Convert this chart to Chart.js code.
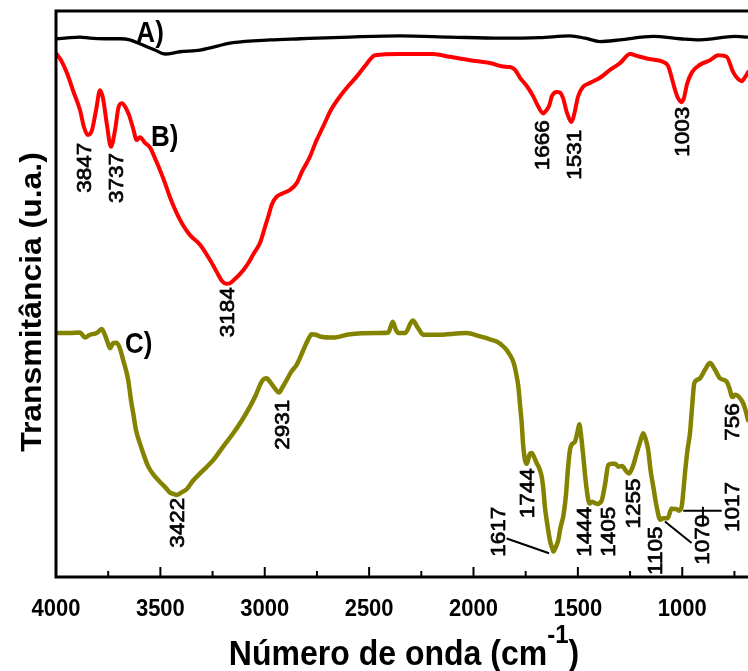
<!DOCTYPE html>
<html>
<head>
<meta charset="utf-8">
<script src="https://cdn.jsdelivr.net/npm/chart.js@4.4.1/dist/chart.umd.min.js"></script>
<style>
body{margin:0;background:#fff;}
#ftir{display:block;}
</style>
</head>
<body>
<canvas id="ftir" width="748" height="671"></canvas>
<script>

// spectrum A
const waveA=[4000,3957,3885,3837,3765,3693,3646,3598,3526,3478,3406,3310,3152,2975,2831,2592,2352,2113,1873,1682,1538,1466,1394,1298,1140,1011,915,748,685];
const transA=[95.1,95.2,95.4,95.2,95.1,95.1,94.9,94.2,93.1,92.4,92.8,93.1,94.4,94.9,95.1,95.4,95.6,95.4,95.2,95.3,95.6,95.2,94.6,94.9,95.5,95.1,94.9,95.5,95.4];

// spectrum B
const waveB=[4000,3976,3947,3919,3885,3866,3847,3828,3808,3789,3775,3756,3737,3717,3701,3685,3669,3650,3631,3613,3598,3574,3550,3526,3502,3478,3454,3422,3392,3358,3310,3262,3224,3205,3184,3167,3147,3119,3085,3052,3023,2999,2983,2965,2943,2913,2879,2847,2822,2783,2755,2720,2683,2640,2601,2560,2515,2472,2352,2194,2113,2017,1921,1859,1825,1801,1777,1744,1715,1691,1666,1657,1638,1624,1601,1586,1571,1552,1531,1518,1499,1475,1441,1394,1346,1298,1250,1212,1170,1091,1068,1054,1034,1020,1003,992,977,953,915,867,827,787,756,733,715,699,685];
const transB=[92.5,91.3,89.0,86.0,82.5,79.5,78.1,78.9,82.5,86.0,84.6,79.9,76.0,79.0,82.9,83.7,83.1,81.6,79.3,77.2,77.7,76.7,75.9,74.0,71.9,69.6,67.1,64.3,62.2,60.4,58.7,56.0,53.5,52.3,51.8,51.9,52.5,53.5,55.1,57.2,59.0,61.8,63.7,65.9,67.2,67.8,68.4,69.6,71.6,74.3,76.9,79.6,82.5,84.9,86.7,88.4,90.5,92.2,92.4,92.4,91.9,91.3,90.8,90.2,90.1,89.6,88.2,86.7,85.0,83.2,81.9,82.2,83.2,85.0,85.7,85.6,84.6,82.0,80.4,81.7,84.9,86.6,87.3,88.2,89.6,90.8,92.4,92.0,91.6,91.0,90.3,88.7,86.0,84.6,83.9,84.6,87.1,89.2,90.5,91.3,92.2,91.9,89.2,88.0,87.6,88.3,89.2];

// spectrum C
const waveC=[4000,3933,3885,3861,3837,3805,3781,3757,3741,3727,3713,3698,3678,3654,3641,3630,3617,3598,3578,3558,3531,3502,3473,3454,3438,3422,3405,3396,3374,3344,3310,3246,3200,3151,3109,3071,3042,3023,3009,2991,2975,2959,2931,2917,2895,2874,2847,2815,2793,2775,2755,2735,2672,2592,2448,2408,2387,2371,2360,2328,2291,2266,2240,2176,2033,1969,1921,1889,1859,1841,1825,1809,1797,1785,1777,1769,1763,1753,1744,1732,1721,1710,1697,1686,1673,1665,1658,1646,1634,1624,1617,1608,1594,1583,1570,1557,1548,1538,1528,1514,1502,1493,1485,1474,1463,1450,1444,1432,1420,1405,1394,1385,1370,1354,1337,1322,1306,1289,1266,1255,1236,1218,1203,1187,1174,1163,1152,1139,1124,1105,1091,1070,1051,1040,1027,1017,1003,994,987,975,963,954,944,939,915,891,867,843,819,787,771,763,756,748,733,708,695,685];
const transC=[43.1,43.1,43.2,42.3,42.8,43.1,43.8,41.9,40.4,41.3,41.4,40.8,38.3,34.8,31.3,28.9,26.0,23.6,21.4,19.5,18.0,16.8,15.7,14.9,14.7,14.5,14.8,15.0,15.5,17.0,18.3,20.7,23.0,25.4,27.7,30.1,32.2,33.9,34.8,35.1,34.5,33.7,32.6,33.4,34.8,36.2,37.5,40.1,41.9,42.9,42.8,42.5,42.3,42.9,43.1,43.2,45.1,43.6,43.1,43.1,45.3,44.0,42.8,42.8,43.1,42.5,42.0,41.6,40.8,40.1,39.2,38.0,36.2,33.6,30.4,27.2,23.7,20.6,20.0,21.6,21.9,21.2,20.1,19.3,17.7,15.4,12.4,9.2,6.5,5.2,4.5,5.1,6.5,8.8,10.7,14.5,18.9,22.4,23.5,23.9,25.6,27.0,25.1,21.3,17.1,13.6,13.0,13.3,13.1,12.9,13.1,13.6,16.3,19.8,20.0,20.0,19.5,19.6,18.6,18.3,19.6,21.9,23.7,25.4,24.2,22.4,18.9,16.0,12.7,10.1,10.4,10.4,12.1,12.0,12.0,11.7,12.4,15.4,18.3,22.4,25.4,29.5,33.9,34.5,35.1,36.6,37.8,36.6,35.1,34.5,33.0,31.9,31.8,32.2,32.0,30.7,29.2,27.7];

// x axis ticks
const majorTicks=[4000,3500,3000,2500,2000,1500,1000];
const minorTicks=[3750,3250,2750,2250,1750,1250,750];

// band labels: text, x position (cm-1), top of text (a.u.)
const bandsB=["3847","3737","3184","1666","1531","1003"];
const bandsBx=[3866,3713,3182,1672,1519,1003];
const bandsBy=[76.7,74.9,51.2,80.7,79.0,83.1];

const bandsC=["3422","2931","1744","1617","1444","1405","1255","1105","1070","1017","756"];
const bandsCx=[3422,2922,1745,1887,1471,1356,1238,1132,907,763,763];
const bandsCy=[14.0,31.3,19.2,12.4,12.4,12.4,17.4,8.9,11.0,16.8,30.7];

// leader lines [x1,y1,x2,y2]
const leaders=[[1841,6.8,1638,4.2],[1083,9.8,955,6.0],[995,11.7,811,11.7],[901,12.4,901,9.2]];

const spectraNames=["A)","B)","C)"];
const spectraX=[3615,3545,3670];
const spectraY=[94.6,76.1,39.5];

const FONT="'Liberation Sans', Arial, sans-serif";

function pts(xs,ys){
return xs.map((x,i)=>({x:x,y:ys[i]}));
}

function flatText(ctx,txt,x,y,size,bold,align,stretch){
ctx.save();
ctx.font=(bold?"bold ":"")+size+"px "+FONT;
ctx.textAlign=align;
ctx.textBaseline="alphabetic";
ctx.translate(x,y);
ctx.scale(1,stretch);
ctx.fillText(txt,0,0);
ctx.restore();
}

// text reading bottom to top, x/y is the baseline point
function upText(ctx,txt,x,y,size,bold,align,stretch,heavy){
ctx.save();
ctx.font=(bold?"bold ":"")+size+"px "+FONT;
ctx.textAlign=align;
ctx.textBaseline="alphabetic";
ctx.translate(x,y);
ctx.rotate(-Math.PI/2);
ctx.scale(stretch,1);
ctx.fillText(txt,0,0);
if(heavy){
ctx.lineWidth=heavy;
ctx.strokeText(txt,0,0);
}
ctx.restore();
}

const decorations={
id:"decorations",
afterDraw(chart){
const ctx=chart.ctx;
const xs=chart.scales.x;
const ys=chart.scales.y;
const a=chart.chartArea;

ctx.save();
ctx.fillStyle="#000";
ctx.strokeStyle="#000";

// frame
ctx.lineWidth=3;
ctx.beginPath();
ctx.moveTo(a.right+2,a.top);
ctx.lineTo(a.left,a.top);
ctx.lineTo(a.left,a.bottom);
ctx.lineTo(a.right+2,a.bottom);
ctx.stroke();

// ticks pointing inside
ctx.lineWidth=2;
majorTicks.forEach(v=>{
let px=xs.getPixelForValue(v);
ctx.beginPath();
ctx.moveTo(px,a.bottom);
ctx.lineTo(px,a.bottom-10);
ctx.stroke();
flatText(ctx,String(v),px,a.bottom+39,22,true,"center",1.1);
});
minorTicks.forEach(v=>{
let px=xs.getPixelForValue(v);
ctx.beginPath();
ctx.moveTo(px,a.bottom);
ctx.lineTo(px,a.bottom-6);
ctx.stroke();
});

// band labels
const cap=21*0.716;
bandsB.forEach((t,i)=>{
upText(ctx,t,xs.getPixelForValue(bandsBx[i])+cap/2,ys.getPixelForValue(bandsBy[i]),21,false,"right",1.07,0.7);
});
bandsC.forEach((t,i)=>{
upText(ctx,t,xs.getPixelForValue(bandsCx[i])+cap/2,ys.getPixelForValue(bandsCy[i]),21,false,"right",1.07,0.7);
});

ctx.lineWidth=2;
leaders.forEach(l=>{
ctx.beginPath();
ctx.moveTo(xs.getPixelForValue(l[0]),ys.getPixelForValue(l[1]));
ctx.lineTo(xs.getPixelForValue(l[2]),ys.getPixelForValue(l[3]));
ctx.stroke();
});

spectraNames.forEach((t,i)=>{
flatText(ctx,t,xs.getPixelForValue(spectraX[i]),ys.getPixelForValue(spectraY[i]),26,true,"left",1.1);
});

// axis titles
upText(ctx,"Transmitância (u.a.)",41,302,29,true,"center",1.1);

ctx.font="bold 32px "+FONT;
let part1="Número de onda (cm";
let w1=ctx.measureText(part1).width;
ctx.font="bold 24px "+FONT;
let w2=ctx.measureText("-1").width;
ctx.font="bold 32px "+FONT;
let w3=ctx.measureText(")").width;
let x0=404-(w1+w2+w3)/2;
flatText(ctx,part1,x0,665,32,true,"left",1.1);
flatText(ctx,"-1",x0+w1,643,24,true,"left",1.1);
flatText(ctx,")",x0+w1+w2,665,32,true,"left",1.1);

ctx.restore();
}
};

new Chart(document.getElementById("ftir"),{
type:"line",
data:{
datasets:[
{label:"C",data:pts(waveC,transC),borderColor:"#838300",borderWidth:4.5},
{label:"B",data:pts(waveB,transB),borderColor:"#ff0000",borderWidth:4},
{label:"A",data:pts(waveA,transA),borderColor:"#000000",borderWidth:3.3}
]
},
options:{
responsive:false,
animation:false,
devicePixelRatio:1,
layout:{padding:{left:56,top:11,right:0,bottom:94}},
elements:{
point:{radius:0},
line:{cubicInterpolationMode:"monotone",borderJoinStyle:"round",borderCapStyle:"round"}
},
plugins:{legend:{display:false},tooltip:{enabled:false}},
scales:{
x:{type:"linear",reverse:true,min:685,max:4000,display:false},
y:{min:0,max:100,display:false}
}
},
plugins:[decorations]
});

</script>
</body>
</html>
